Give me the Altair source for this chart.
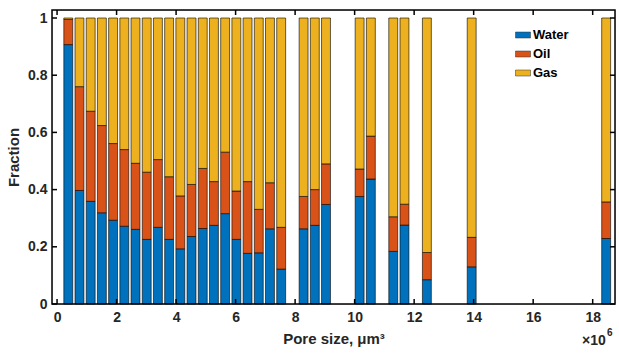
import altair as alt
import pandas as pd

# Pore size bin centres (x 10^6 um^3)
pore_size = [0.377, 0.753, 1.130, 1.506, 1.883, 2.260, 2.636, 3.013, 3.389, 3.766,
             4.143, 4.519, 4.896, 5.272, 5.649, 6.026, 6.402, 6.779, 7.155, 7.532,
             8.285, 8.662, 9.038, 10.168, 10.545, 11.298, 11.675, 12.428, 13.934, 18.453]
water = [0.907, 0.397, 0.359, 0.319, 0.293, 0.272, 0.261, 0.226, 0.268, 0.226,
         0.193, 0.236, 0.264, 0.275, 0.316, 0.226, 0.177, 0.179, 0.263, 0.122,
         0.263, 0.275, 0.348, 0.376, 0.437, 0.184, 0.276, 0.085, 0.130, 0.229]
oil = [0.088, 0.363, 0.315, 0.305, 0.268, 0.268, 0.231, 0.235, 0.237, 0.219,
       0.185, 0.182, 0.210, 0.153, 0.215, 0.169, 0.251, 0.152, 0.161, 0.146,
       0.113, 0.125, 0.142, 0.096, 0.150, 0.121, 0.073, 0.095, 0.103, 0.128]
gas = [0.005, 0.240, 0.326, 0.376, 0.439, 0.460, 0.508, 0.539, 0.495, 0.555,
       0.622, 0.582, 0.526, 0.572, 0.469, 0.605, 0.572, 0.669, 0.576, 0.732,
       0.624, 0.600, 0.510, 0.528, 0.413, 0.695, 0.651, 0.820, 0.767, 0.643]
phases = ["Water", "Oil", "Gas"]
colors = ["#0072BD", "#D95319", "#EDB120"]
x_ticks = [0, 2, 4, 6, 8, 10, 12, 14, 16, 18]
y_ticks = [0, 0.2, 0.4, 0.6, 0.8, 1.0]

BAR_HALF = 0.15
W, H = 563, 294
FONT = "Liberation Sans"
AX = "#262626"
LINE = "black"

rows = []
for i, xc in enumerate(pore_size):
    base = 0.0
    for name, vals in zip(phases, [water, oil, gas]):
        v = vals[i]
        rows.append({"xl": xc - BAR_HALF, "xr": xc + BAR_HALF, "phase": name,
                     "ylo": base, "yhi": base + v})
        base += v
df = pd.DataFrame(rows)

xscale = alt.Scale(domain=[-0.17, 18.75], nice=False, zero=False)
yscale = alt.Scale(domain=[0, 1.028], nice=False, zero=False)

x_axis = alt.Axis(values=x_ticks, ticks=False, domain=False, grid=False,
                  labelFont=FONT, labelFontWeight="bold", labelFontSize=14,
                  labelColor=AX, labelPadding=6,
                  titleFont=FONT, titleFontWeight="bold", titleFontSize=15,
                  titleColor=AX, titlePadding=7)
y_axis = alt.Axis(values=y_ticks, ticks=False, domain=False, grid=False,
                  labelFont=FONT, labelFontWeight="bold", labelFontSize=14,
                  labelColor=AX, labelPadding=5,
                  labelExpr="datum.value == 0 ? '0' : datum.value == 1 ? '1' : format(datum.value, '.1f')",
                  titleFont=FONT, titleFontWeight="bold", titleFontSize=15,
                  titleColor=AX, titlePadding=6)
X_TITLE = "Pore size, \u03bcm\u00b3"
Y_TITLE = "Fraction"

xt = pd.DataFrame({"tx": x_ticks})
yt = pd.DataFrame({"ty": y_ticks})

bars = alt.Chart(df).mark_bar(stroke="black", strokeWidth=0.6).encode(
    x=alt.X("xl:Q", scale=xscale, title=X_TITLE, axis=x_axis),
    x2="xr:Q",
    y=alt.Y("ylo:Q", scale=yscale, title=Y_TITLE, axis=y_axis),
    y2="yhi:Q",
    color=alt.Color("phase:N", scale=alt.Scale(domain=phases, range=colors),
                    legend=alt.Legend(title=None, orient="none", legendX=463, legendY=17,
                                      padding=0, symbolType="M-1,-0.4H1V0.4H-1Z",
                                      symbolSize=225, symbolStrokeColor="#333",
                                      symbolStrokeWidth=0.5, symbolOpacity=1,
                                      labelFont=FONT, labelFontWeight="bold", labelFontSize=13,
                                      labelColor="#000", labelOffset=2, rowPadding=4)),
)

bx = alt.Chart(xt).mark_rule(color=LINE, strokeWidth=1.5).encode(
    x=alt.X("tx:Q", scale=xscale, title=X_TITLE, axis=x_axis), y=alt.value(H), y2=alt.value(H - 5))
tx = alt.Chart(xt).mark_rule(color=LINE, strokeWidth=1.5).encode(
    x=alt.X("tx:Q", scale=xscale, title=X_TITLE, axis=x_axis), y=alt.value(0), y2=alt.value(5))
ly = alt.Chart(yt).mark_rule(color=LINE, strokeWidth=1.5).encode(
    y=alt.Y("ty:Q", scale=yscale, title=Y_TITLE, axis=y_axis), x=alt.value(0), x2=alt.value(5))
ry = alt.Chart(yt).mark_rule(color=LINE, strokeWidth=1.5).encode(
    y=alt.Y("ty:Q", scale=yscale, title=Y_TITLE, axis=y_axis), x=alt.value(W), x2=alt.value(W - 5))

frame = alt.Chart(pd.DataFrame({"f": [0]})).mark_rect(
    fillOpacity=0, stroke=LINE, strokeWidth=1.5
).encode(x=alt.value(0), x2=alt.value(W), y=alt.value(0), y2=alt.value(H))

exp_main = alt.Chart(pd.DataFrame({"s": ["\u00d710"]})).mark_text(
    font=FONT, fontSize=14, fontWeight="bold", color=AX, align="left", baseline="alphabetic"
).encode(text="s:N", x=alt.value(W - 33), y=alt.value(H + 41))
exp_sup = alt.Chart(pd.DataFrame({"s": ["6"]})).mark_text(
    font=FONT, fontSize=10, fontWeight="bold", color=AX, align="left", baseline="alphabetic"
).encode(text="s:N", x=alt.value(W - 8), y=alt.value(H + 32))

chart = alt.layer(bars, bx, tx, ly, ry, frame, exp_main, exp_sup).properties(
    width=W, height=H,
    padding={"left": 52, "top": 10, "right": 4, "bottom": 52},
    autosize=alt.AutoSizeParams(type="none"),
)

chart.save("out.html", embed_options={"renderer": "svg", "actions": False})
